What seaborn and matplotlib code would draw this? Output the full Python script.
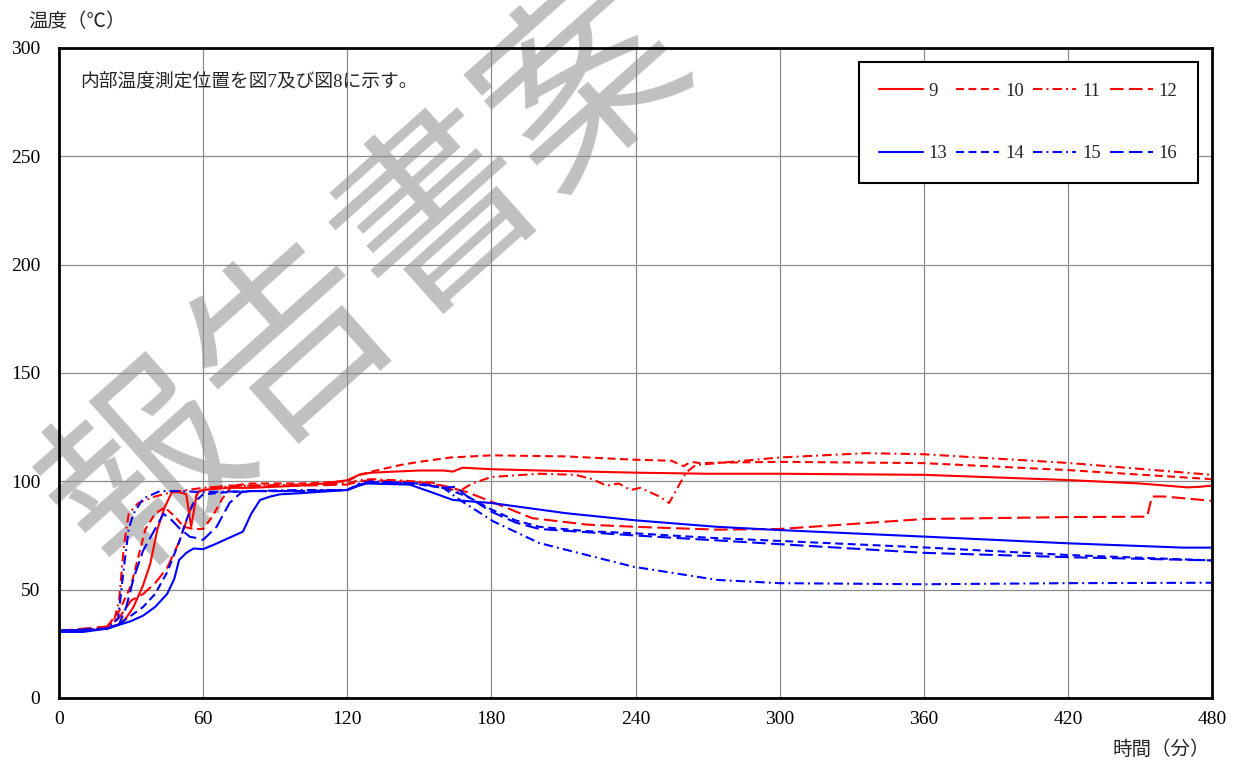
import matplotlib
matplotlib.use("Agg")
import matplotlib.pyplot as plt
import seaborn as sns
import numpy as np
from matplotlib.ticker import MultipleLocator

sns.set_style("white")
plt.rcParams['font.family'] = ['Liberation Serif', 'Noto Sans CJK JP', 'DejaVu Sans']

# ---------------- data ----------------
t9 = [0, 10, 15, 20, 25, 28, 31, 35, 38, 41, 44, 47, 50, 53, 55, 57.5, 60, 70, 80, 90, 100, 110, 120, 125, 130, 140,
      150, 160, 164, 168, 180, 200, 240, 270, 300, 360, 420, 450, 470, 475, 480]
v9 = [31, 31, 31.5, 32.5, 34, 37, 42, 52, 62, 78, 88, 95, 95, 94, 79, 95, 96, 97, 97, 97.5, 98, 99, 100.5, 103, 104,
      104.5, 105, 105, 104.5, 106.3, 105.6, 105, 104, 103.5, 103.5, 103, 100.6, 99, 97.2, 97.5, 98]

t10 = [0, 15, 20, 25, 30, 33, 36, 40, 44, 48, 52, 56, 60, 64, 68, 72, 80, 100, 120, 125, 130, 142, 150, 163, 180, 211,
       239, 255, 260, 263, 267, 274, 300, 360, 420, 480]
v10 = [31, 31.5, 33, 40, 52, 65, 78, 85, 88, 84, 79, 78, 78, 84, 92, 98, 99, 99, 100, 103, 104.5, 107.5, 109, 111, 112,
       111.5, 110, 109.5, 107, 109, 108.4, 108.6, 109, 108.4, 105.2, 101]

t11 = [0, 15, 20, 23, 25, 27, 29, 33, 40, 47, 60, 80, 100, 120, 125, 130, 140, 155, 162, 166, 172, 180, 200, 215, 222,
       228, 233, 238, 242, 246, 250, 254, 257, 261, 265, 270, 280, 300, 336, 360, 420, 480]
v11 = [31, 31.5, 33, 36, 45, 70, 85, 90, 93, 95, 97, 98, 98.5, 99, 100.5, 101, 100.5, 99.5, 97, 95, 99, 102, 103.5,
       103, 101, 98, 99, 96, 97, 95, 93, 90, 96, 104, 107.5, 108, 109, 111, 113, 112.5, 108.5, 103]

t12 = [0, 20, 25, 30, 35, 40, 45, 50, 55, 58, 62, 70, 80, 100, 120, 125, 130, 140, 150, 160, 170, 180, 197, 220, 240,
       274, 300, 360, 420, 453, 455, 460, 470, 480]
v12 = [31, 33, 37, 45, 48, 53, 60, 72, 88, 95, 97, 98, 98, 98, 98.5, 100, 100.5, 100, 99.5, 98, 95, 90.6, 83, 80, 79,
       77.7, 78, 82.6, 83.5, 83.7, 93, 93, 92, 91]

t13 = [0, 10, 20, 30, 35, 40, 45, 48, 50, 53, 56, 60, 65, 70, 76.6, 80, 83.7, 88, 92, 100, 120, 125, 128, 146, 155,
       164, 180, 211, 240, 274, 300, 360, 420, 468, 480]
v13 = [30.5, 30.5, 32, 35.5, 38, 42, 48, 55, 63.7, 67, 69, 68.7, 71, 73.5, 76.8, 85, 91.4, 93, 94, 94.5, 96, 98, 99,
       98.5, 95, 91.4, 90, 85.3, 82, 79, 77.5, 74.5, 71.4, 69.4, 69.4]

t14 = [0, 20, 25, 30, 35, 40, 45, 50, 53, 56, 60, 70, 80, 100, 120, 125, 130, 145, 150, 160, 170, 180, 190, 200, 220,
       240, 270, 300, 360, 420, 480]
v14 = [31, 32, 34, 38, 42, 48, 58, 72, 82, 90, 94, 95, 95.5, 95.5, 96, 98.5, 99.5, 99, 98.5, 97, 93, 87, 82, 79, 77,
       76, 74, 72.5, 69.5, 66, 63.5]

t15 = [0, 20, 24.6, 27, 29, 31, 35, 42, 50, 60, 80, 100, 120, 125, 130, 140, 150, 160, 167, 181, 200, 239, 274, 300,
       360, 420, 480]
v15 = [31, 32, 36.6, 60, 78, 85, 92, 95.5, 95.5, 95, 95.5, 96, 96, 99, 100, 99.5, 99, 97, 91.3, 81.4, 71.5, 60.6, 54.5,
       53, 52.5, 53, 53.2]

t16 = [0, 20, 25, 28, 31, 35, 40, 43.5, 47, 50, 54.5, 57.5, 60, 65.6, 71, 76, 80, 100, 120, 125, 130, 140, 150, 160,
       165, 170, 180, 190, 200, 220, 240, 270, 300, 360, 420, 480]
v16 = [31, 32, 34, 42, 55, 68, 78, 85, 82, 78.5, 74.4, 73.8, 73, 79, 90, 95, 95.5, 95.5, 96, 98.5, 99.5, 99.5, 99, 97,
       97.5, 93, 86, 81, 78, 76.5, 75, 73, 71, 67, 65, 63.5]

labels = ["9", "10", "11", "12", "13", "14", "15", "16"]
x_ticks = [0, 60, 120, 180, 240, 300, 360, 420, 480]
y_ticks = [0, 50, 100, 150, 200, 250, 300]

series = [(t9, v9), (t10, v10), (t11, v11), (t12, v12),
          (t13, v13), (t14, v14), (t15, v15), (t16, v16)]

# ---------------- styles ----------------
RED, BLUE = "#ff0000", "#0000ff"
ls_solid = "-"
ls_short = (0, (3.8, 2.2))
ls_dashdot = (0, (4.5, 2.0, 0.9, 2.0))
ls_long = (0, (6.5, 2.6))
styles = [(RED, ls_solid), (RED, ls_short), (RED, ls_dashdot), (RED, ls_long),
          (BLUE, ls_solid), (BLUE, ls_short), (BLUE, ls_dashdot), (BLUE, ls_long)]

fig = plt.figure(figsize=(12.42, 7.62), dpi=100)
ax = fig.add_axes([59 / 1242, 1 - 698 / 762, (1212 - 59) / 1242, (698 - 48) / 762])
ax.set_facecolor("none")

handles = []
for (tx, vy), lab, (c, ls) in zip(series, labels, styles):
    sns.lineplot(x=tx, y=vy, ax=ax, color=c, linestyle=ls, linewidth=1.5,
                 sort=False, estimator=None, label=lab)
    handles.append(ax.lines[-1])

ax.set_xlim(0, 480)
ax.set_ylim(0, 300)
ax.set_xticks(x_ticks)
ax.set_yticks(y_ticks)
ax.xaxis.set_minor_locator(MultipleLocator(15))
ax.yaxis.set_minor_locator(MultipleLocator(10))
ax.tick_params(which="both", direction="in", length=5, width=1, colors="black")
ax.tick_params(axis="y", which="major", pad=13.5, labelsize=14)
ax.tick_params(axis="x", which="major", pad=9, labelsize=14)
ax.grid(True, which="major", color="#8c8c8c", linewidth=0.9)
ax.set_xlabel("")
ax.set_ylabel("")
for s in ax.spines.values():
    s.set_linewidth(2.0)
    s.set_color("black")

# legend: two rows of four
order = [0, 4, 1, 5, 2, 6, 3, 7]
leg = ax.legend([handles[i] for i in order], [labels[i] for i in order], ncol=4,
                loc="upper right", bbox_to_anchor=(0.988, 0.978), borderaxespad=0,
                fontsize=13.5, handlelength=2.3, handletextpad=0.3, columnspacing=0.5,
                labelspacing=2.4, borderpad=1.1, frameon=True, fancybox=False,
                framealpha=1, edgecolor="black")
leg.get_frame().set_linewidth(1.5)

ax.text(0.018, 0.948, "内部温度測定位置を図7及び図8に示す。", transform=ax.transAxes,
        fontsize=13.5, ha="left", va="center")

fig.text(28 / 1242, 1 - 22 / 762, "温度（℃）", fontsize=14, ha="left", va="center")
fig.text(1112 / 1242, 1 - 750 / 762, "時間（分）", fontsize=14, ha="left", va="center")

# watermark
ax.text(368 / 1242, 1 - 278 / 762, "報告書案", transform=fig.transFigure,
        fontsize=140, color="#c0c0c0", rotation=41.7, rotation_mode="anchor",
        ha="center", va="center", family=["Noto Sans CJK JP"], fontweight="normal",
        zorder=0.5, clip_on=False)

fig.savefig("out.png", dpi=100, facecolor="white")
